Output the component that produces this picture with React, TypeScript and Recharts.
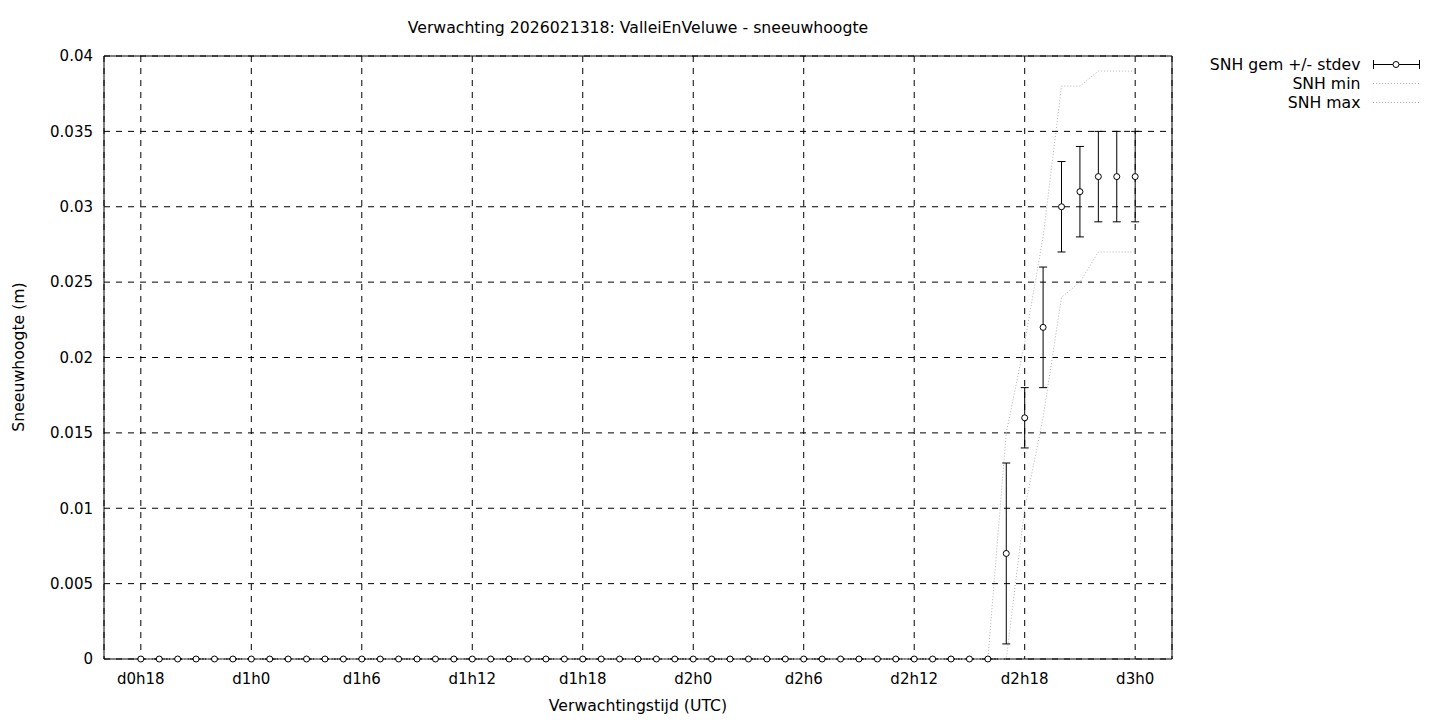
import { ComposedChart, Line, XAxis, YAxis, CartesianGrid, ErrorBar, ReferenceArea } from 'recharts';

// forecast hours since d0h0
const hours = [
  18, 19, 20, 21, 22, 23, 24, 25, 26, 27, 28, 29, 30, 31, 32, 33, 34, 35, 36, 37,
  38, 39, 40, 41, 42, 43, 44, 45, 46, 47, 48, 49, 50, 51, 52, 53, 54, 55, 56, 57,
  58, 59, 60, 61, 62, 63, 64, 65, 66, 67, 68, 69, 70, 71, 72,
];

const snhMean = [
  0, 0, 0, 0, 0, 0, 0, 0, 0, 0, 0, 0, 0, 0, 0, 0, 0, 0, 0, 0,
  0, 0, 0, 0, 0, 0, 0, 0, 0, 0, 0, 0, 0, 0, 0, 0, 0, 0, 0, 0,
  0, 0, 0, 0, 0, 0, 0, 0.007, 0.016, 0.022, 0.030, 0.031, 0.032, 0.032, 0.032,
];

// mean - stdev / mean + stdev
const snhLow = [
  0, 0, 0, 0, 0, 0, 0, 0, 0, 0, 0, 0, 0, 0, 0, 0, 0, 0, 0, 0,
  0, 0, 0, 0, 0, 0, 0, 0, 0, 0, 0, 0, 0, 0, 0, 0, 0, 0, 0, 0,
  0, 0, 0, 0, 0, 0, 0, 0.001, 0.014, 0.018, 0.027, 0.028, 0.029, 0.029, 0.029,
];
const snhHigh = [
  0, 0, 0, 0, 0, 0, 0, 0, 0, 0, 0, 0, 0, 0, 0, 0, 0, 0, 0, 0,
  0, 0, 0, 0, 0, 0, 0, 0, 0, 0, 0, 0, 0, 0, 0, 0, 0, 0, 0, 0,
  0, 0, 0, 0, 0, 0, 0, 0.013, 0.018, 0.026, 0.033, 0.034, 0.035, 0.035, 0.035,
];

const snhMin = [
  0, 0, 0, 0, 0, 0, 0, 0, 0, 0, 0, 0, 0, 0, 0, 0, 0, 0, 0, 0,
  0, 0, 0, 0, 0, 0, 0, 0, 0, 0, 0, 0, 0, 0, 0, 0, 0, 0, 0, 0,
  0, 0, 0, 0, 0, 0, 0, 0, 0.010, 0.016, 0.024, 0.025, 0.027, 0.027, 0.027,
];
const snhMax = [
  0, 0, 0, 0, 0, 0, 0, 0, 0, 0, 0, 0, 0, 0, 0, 0, 0, 0, 0, 0,
  0, 0, 0, 0, 0, 0, 0, 0, 0, 0, 0, 0, 0, 0, 0, 0, 0, 0, 0, 0,
  0, 0, 0, 0, 0, 0, 0, 0.015, 0.021, 0.028, 0.038, 0.038, 0.039, 0.039, 0.039,
];

const xTicks = [18, 24, 30, 36, 42, 48, 54, 60, 66, 72];
const yTicks = [0, 0.005, 0.01, 0.015, 0.02, 0.025, 0.03, 0.035, 0.04];

const rows = hours.map((h, i) => ({
  hour: h,
  mean: snhMean[i],
  err: [snhMean[i] - snhLow[i], snhHigh[i] - snhMean[i]],
  min: snhMin[i],
  max: snhMax[i],
}));

const font = '"DejaVu Sans", sans-serif';
const tickStyle = { fill: '#000', fontSize: 15, fontFamily: font };
const labelSize = 15.7;
const dotted = '#b4b4b4';

const fmtHour = (h: number) => `d${Math.floor(h / 24)}h${h % 24}`;

export default function App() {
  return (
    <div style={{ position: 'absolute', left: 0, top: 0, width: 1440, height: 720, background: '#fff', fontFamily: font, color: '#000' }}>
      <ComposedChart width={1440} height={720} data={rows} margin={{ top: 56, right: 268, bottom: 31, left: 10 }}>
        <CartesianGrid stroke="#000" strokeDasharray="6 6" strokeWidth={1} />
        <XAxis
          dataKey="hour"
          type="number"
          domain={[16, 74]}
          ticks={xTicks}
          tickFormatter={fmtHour}
          height={30}
          axisLine={false}
          tickLine={false}
          tickMargin={8}
          tick={tickStyle}
        />
        <YAxis
          type="number"
          domain={[0, 0.04]}
          ticks={yTicks}
          width={94}
          axisLine={false}
          tickLine={false}
          tickMargin={5}
          tick={tickStyle}
        />
        <ReferenceArea x1={16} x2={74} y1={0} y2={0.04} fill="none" stroke="#000" strokeWidth={1} />
        <Line dataKey="min" stroke={dotted} strokeWidth={1} strokeDasharray="1 2" dot={false} isAnimationActive={false} />
        <Line dataKey="max" stroke={dotted} strokeWidth={1} strokeDasharray="1 2" dot={false} isAnimationActive={false} />
        <Line
          dataKey="mean"
          stroke="none"
          dot={{ r: 3, fill: '#fff', stroke: '#000', strokeWidth: 1 }}
          isAnimationActive={false}
        >
          <ErrorBar dataKey="err" direction="y" width={4} stroke="#000" strokeWidth={1} />
        </Line>
      </ComposedChart>

      <div style={{ position: 'absolute', left: 104, width: 1068, top: 18, textAlign: 'center', fontSize: labelSize }}>
        Verwachting 2026021318: ValleiEnVeluwe - sneeuwhoogte
      </div>
      <div style={{ position: 'absolute', left: 104, width: 1068, top: 696, textAlign: 'center', fontSize: labelSize }}>
        Verwachtingstijd (UTC)
      </div>
      <div style={{ position: 'absolute', left: 18, top: 357, fontSize: labelSize, whiteSpace: 'nowrap', transform: 'translate(-50%, -50%) rotate(-90deg)' }}>
        Sneeuwhoogte (m)
      </div>

      <div style={{ position: 'absolute', left: 1160, top: 55, width: 270, fontSize: labelSize }}>
        {[
          { label: 'SNH gem +/- stdev', kind: 'err' },
          { label: 'SNH min', kind: 'dot' },
          { label: 'SNH max', kind: 'dot' },
        ].map((item) => (
          <div key={item.label} style={{ display: 'flex', alignItems: 'center', height: 19 }}>
            <span style={{ width: 202, textAlign: 'right' }}>{item.label}</span>
            <svg width={60} height={19} style={{ marginLeft: 10 }}>
              {item.kind === 'err' ? (
                <g stroke="#000" strokeWidth={1}>
                  <line x1={3} y1={9.5} x2={50} y2={9.5} />
                  <line x1={3.5} y1={5} x2={3.5} y2={14} />
                  <line x1={49.5} y1={5} x2={49.5} y2={14} />
                  <circle cx={26} cy={9.5} r={3} fill="#fff" />
                </g>
              ) : (
                <line x1={3} y1={9.5} x2={50} y2={9.5} stroke={dotted} strokeDasharray="1 2" />
              )}
            </svg>
          </div>
        ))}
      </div>
    </div>
  );
}
